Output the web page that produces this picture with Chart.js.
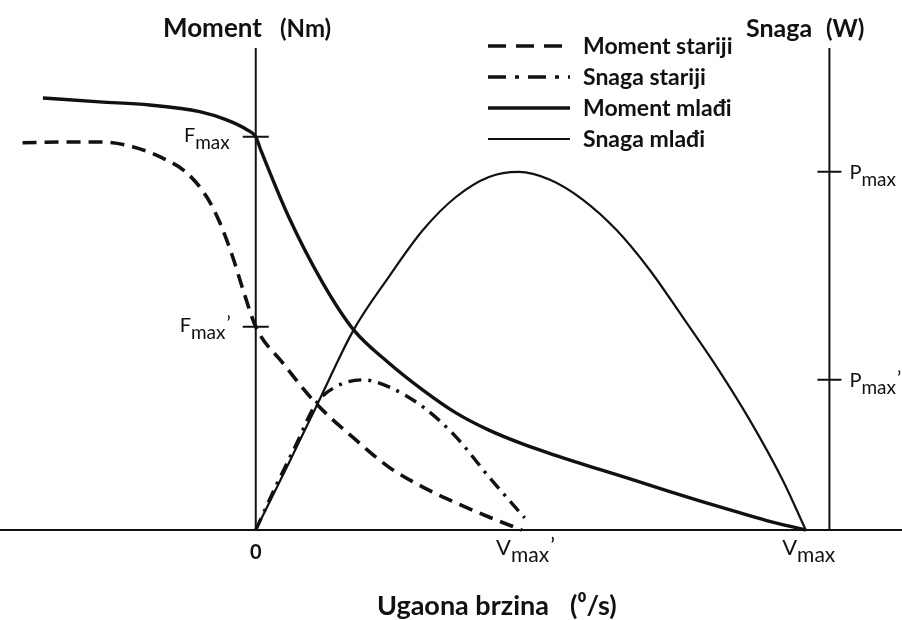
<!DOCTYPE html>
<html>
<head>
<meta charset="utf-8">
<script src="https://cdn.jsdelivr.net/npm/chart.js@4/dist/chart.umd.min.js"></script>
<style>
html,body{margin:0;padding:0;background:#fff;}
#wrap{width:902px;height:620px;position:relative;}
</style>
</head>
<body>
<div id="wrap"><canvas id="c" width="902" height="620"></canvas></div>
<script>
// ---- Data (angular speed in % of Vmax, values in % of Fmax / Pmax scale) ----
const momentStarijiX = [-42.4, -34.4, -28.4, -22.4, -16.2, -12.5, -8.9, -6.5, -4.2, -2.4, 0, 4.9, 10.9, 18.2, 24.2, 30.4, 36.4, 42.4, 48.4];
const momentStarijiY = [98.5, 98.7, 98.7, 97.5, 94.1, 90.8, 84.7, 78.1, 69.5, 61.5, 51.7, 42.5, 32.3, 22.9, 16.0, 10.9, 6.9, 3.3, 0];

const snagaStarijiX = [0, 3.6, 7.3, 10.9, 14.5, 19.5, 24.2, 30.4, 36.4, 42.4, 48.9];
const snagaStarijiY = [0, 11.0, 21.6, 32.0, 36.4, 38.2, 36.4, 31.3, 23.7, 13.5, 3.1];

const momentMladjiX = [-38.7, -28.4, -19.3, -10.2, -5.3, -1.6, 0, 0.9, 6.0, 12.2, 17.8, 24.2, 30.4, 36.4, 42.4, 48.5, 54.5, 62.5, 68.5, 74.7, 80.7, 86.7, 92.9, 100];
const momentMladjiY = [109.9, 108.9, 108.1, 106.4, 104.3, 101.8, 100, 96.7, 79.6, 62.8, 50.9, 42.5, 35.6, 29.8, 25.4, 21.9, 19.0, 15.4, 12.8, 10.0, 7.4, 4.9, 2.4, 0];

const snagaMladjiX = [0, 6.0, 10.9, 17.8, 24.2, 30.4, 36.4, 42.4, 47.8, 53.5, 59.5, 65.6, 71.6, 77.6, 83.8, 89.8, 95.8, 100];
const snagaMladjiY = [0, 17.0, 31.1, 50.9, 64.4, 76.3, 84.7, 89.8, 91.1, 89.1, 84.0, 76.3, 66.2, 54.2, 41.5, 28.0, 12.7, 0];

const seriesLabels = ['Moment stariji', 'Snaga stariji', 'Moment mlađi', 'Snaga mlađi'];

// Tick positions and labels
const xTickValues = [0, 48.4, 100];
const xTickLabels = ['0', 'Vmax’', 'Vmax'];
const leftTickValues = [100, 51.7];
const leftTickLabels = ['Fmax', 'Fmax’'];
const rightTickValues = [91.1, 38.2];
const rightTickLabels = ['Pmax', 'Pmax’'];
const rightAxisValue = 104.3;

const xMin = -46.5, xMax = 117.5, yMin = 0, yMax = 122.6;

const zip = (xs, ys) => xs.map((x, i) => ({x: x, y: ys[i]}));

const INK = '#111';
const FONT = 'Lato, "Open Sans", "Liberation Sans", sans-serif';

function drawSubLabel(ctx, label, x, y, align, size, weight) {
  const main = label[0];
  let sub = label.slice(1);
  let prime = '';
  if (sub.endsWith('’')) { prime = '’'; sub = sub.slice(0, -1); }
  ctx.font = weight + ' ' + size + 'px ' + FONT;
  const wMain = ctx.measureText(main).width;
  ctx.font = weight + ' ' + Math.round(size * 0.95) + 'px ' + FONT;
  const wSub = ctx.measureText(sub).width;
  ctx.font = weight + ' ' + size + 'px ' + FONT;
  const wPrime = prime ? ctx.measureText(prime).width : 0;
  const total = wMain + wSub + wPrime;
  let sx = x;
  if (align === 'right') sx = x - total;
  else if (align === 'center') sx = x - total / 2;
  ctx.textAlign = 'left';
  ctx.textBaseline = 'alphabetic';
  ctx.fillStyle = INK;
  ctx.font = weight + ' ' + size + 'px ' + FONT;
  ctx.fillText(main, sx, y);
  if (sub) {
    ctx.font = weight + ' ' + Math.round(size * 0.95) + 'px ' + FONT;
    ctx.fillText(sub, sx + wMain, y + 7);
  }
  if (prime) {
    ctx.font = weight + ' ' + size + 'px ' + FONT;
    ctx.fillText(prime, sx + wMain + wSub + 1, y - 2);
  }
}

const schematic = {
  id: 'schematic',
  beforeDatasetsDraw(chart) {
    const ctx = chart.ctx;
    const xs = chart.scales.x, ys = chart.scales.y;
    const y0 = ys.getPixelForValue(0);
    const yTop = ys.getPixelForValue(yMax);
    const xl = xs.getPixelForValue(0);
    const xr = xs.getPixelForValue(rightAxisValue);
    ctx.save();
    ctx.strokeStyle = INK;
    ctx.lineWidth = 2;
    ctx.setLineDash([]);
    ctx.beginPath();
    ctx.moveTo(xs.left, y0); ctx.lineTo(xs.right, y0);
    ctx.moveTo(xl, yTop); ctx.lineTo(xl, y0);
    ctx.moveTo(xr, yTop); ctx.lineTo(xr, y0);
    leftTickValues.forEach(v => { const p = ys.getPixelForValue(v); ctx.moveTo(xl - 13, p); ctx.lineTo(xl + 13, p); });
    rightTickValues.forEach(v => { const p = ys.getPixelForValue(v); ctx.moveTo(xr - 12, p); ctx.lineTo(xr + 12, p); });
    ctx.stroke();
    ctx.restore();
  },
  afterDatasetsDraw(chart) {
    const ctx = chart.ctx;
    const xs = chart.scales.x, ys = chart.scales.y;
    const y0 = ys.getPixelForValue(0);
    const xl = xs.getPixelForValue(0);
    const xr = xs.getPixelForValue(rightAxisValue);
    ctx.save();
    leftTickValues.forEach((v, i) => {
      drawSubLabel(ctx, leftTickLabels[i], xl - 26, ys.getPixelForValue(v) + 5, 'right', 20, 'normal');
    });
    rightTickValues.forEach((v, i) => {
      drawSubLabel(ctx, rightTickLabels[i], xr + 20, ys.getPixelForValue(v) + 7, 'left', 20, 'normal');
    });
    xTickValues.forEach((v, i) => {
      const lab = xTickLabels[i];
      if (lab.length === 1) {
        ctx.font = 'bold 20px ' + FONT;
        ctx.fillStyle = INK; ctx.textAlign = 'center'; ctx.textBaseline = 'alphabetic';
        ctx.fillText(lab, xs.getPixelForValue(v), y0 + 29);
      } else {
        drawSubLabel(ctx, lab, xs.getPixelForValue(v) + 3, y0 + 25, 'center', 22, 'normal');
      }
    });
    // axis titles
    ctx.fillStyle = INK; ctx.textBaseline = 'alphabetic'; ctx.textAlign = 'left';
    ctx.font = 'bold 26px ' + FONT; ctx.fillText('Moment', 163, 37);
    ctx.font = 'bold 24px ' + FONT; ctx.fillText('(Nm)', 280, 37);
    ctx.font = 'bold 25px ' + FONT; ctx.fillText('Snaga', 746, 37);
    ctx.font = 'bold 24px ' + FONT; ctx.fillText('(W)', 826, 37);
    ctx.font = 'bold 27px ' + FONT; ctx.fillText('Ugaona brzina', 377, 615);
    ctx.font = 'bold 27px ' + FONT; ctx.fillText('(⁰/s)', 570, 615);
    // legend
    chart.data.datasets.forEach((ds, i) => {
      const ly = 46 + i * 31;
      ctx.strokeStyle = INK;
      ctx.lineWidth = ds.borderWidth;
      ctx.setLineDash(ds.legendDash || []);
      ctx.beginPath(); ctx.moveTo(488, ly); ctx.lineTo(570, ly); ctx.stroke();
      ctx.setLineDash([]);
      ctx.font = 'bold 23px ' + FONT;
      ctx.fillStyle = INK; ctx.textAlign = 'left'; ctx.textBaseline = 'alphabetic';
      ctx.fillText(ds.label, 583, ly + 8);
    });
    ctx.restore();
  }
};

const common = {pointRadius: 0, borderColor: INK, fill: false, clip: false, cubicInterpolationMode: 'monotone'};

new Chart(document.getElementById('c'), {
  type: 'line',
  data: {
    datasets: [
      Object.assign({label: seriesLabels[0], data: zip(momentStarijiX, momentStarijiY), borderWidth: 3.6, borderDash: [14, 8], legendDash: [18, 10]}, common),
      Object.assign({label: seriesLabels[1], data: zip(snagaStarijiX, snagaStarijiY), borderWidth: 3.4, borderDash: [13, 7, 3, 7], legendDash: [18, 9, 4, 9]}, common),
      Object.assign({label: seriesLabels[2], data: zip(momentMladjiX, momentMladjiY), borderWidth: 3.4}, common),
      Object.assign({label: seriesLabels[3], data: zip(snagaMladjiX, snagaMladjiY), borderWidth: 2.2}, common)
    ]
  },
  options: {
    responsive: false,
    devicePixelRatio: 1,
    animation: false,
    layout: {padding: {left: 0, right: 0, top: 48, bottom: 90}},
    scales: {
      x: {type: 'linear', min: xMin, max: xMax, display: false},
      y: {type: 'linear', min: yMin, max: yMax, display: false}
    },
    plugins: {legend: {display: false}, tooltip: {enabled: false}}
  },
  plugins: [schematic]
});
</script>
</body>
</html>
